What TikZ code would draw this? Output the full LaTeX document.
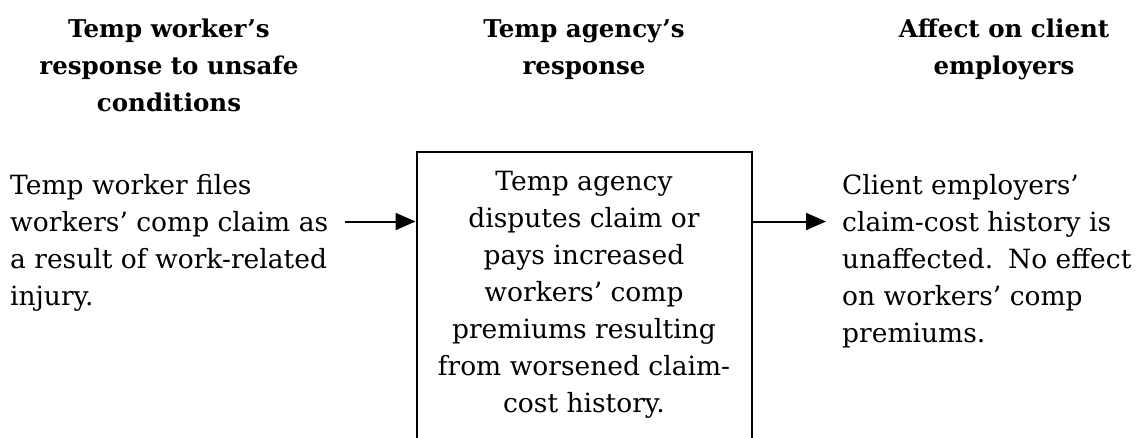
\documentclass[tikz,border=0pt]{standalone}
\usepackage{fontspec}
\setmainfont{DejaVu Serif}
\usetikzlibrary{arrows.meta}
\tikzset{
  body/.style={inner sep=0pt, font=\fontsize{26.5}{37}\selectfont},
  head/.style={inner sep=0pt, align=center, font=\fontsize{24.5}{37}\selectfont\bfseries},
  arr/.style={line width=2pt, -{Triangle[length=20pt,width=17pt]}},
  boxstyle/.style={draw, line width=2pt, minimum width=335.5pt, minimum height=320pt, inner sep=0pt}
}
\begin{document}
\begin{tikzpicture}[x=1pt,y=-1pt]
\useasboundingbox (0,0) rectangle (1138,437);
\clip (0,0) rectangle (1138,437);
\node[head, anchor=base] (h1) at (169,111) {Temp worker’s\\response to unsafe\\conditions};
\node[head, anchor=base] (h2) at (584,74) {Temp agency’s\\response};
\node[head, anchor=base] (h3) at (1004,74) {Affect on client\\employers};
\node[body, align=left, anchor=base west] (left) at (10,305) {Temp worker files\\workers’ comp claim as\\a result of work-related\\injury.};
\node[boxstyle, anchor=north] (box) at (584.25,151) {};
\node[body, align=center, anchor=base] (boxtext) at (584,412) {Temp agency\\disputes claim or\\pays increased\\workers’ comp\\premiums resulting\\from worsened claim-\\cost history.};
\node[body, align=left, anchor=base west] (right) at (842,342) {Client employers’\\claim-cost history is\\unaffected.\hspace{15pt}No effect\\on workers’ comp\\premiums.};
\coordinate (a1s) at (345,221.5);
\coordinate (a2e) at (826,221.5);
\draw[arr] (a1s) -- (a1s -| box.west);
\draw[arr] (a2e -| box.east) -- (a2e);
\end{tikzpicture}
\end{document}
